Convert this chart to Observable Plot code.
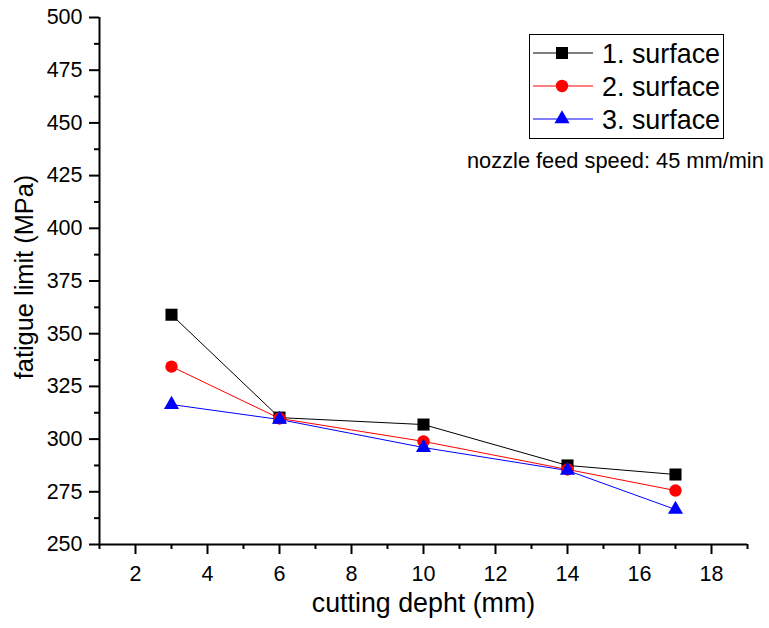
<!DOCTYPE html>
<html>
<head>
<meta charset="utf-8">
<script src="https://cdn.jsdelivr.net/npm/d3@7"></script>
<script src="https://cdn.jsdelivr.net/npm/@observablehq/plot@0.6"></script>
<style>
  body { margin: 0; background: #fff; }
  #chart { position: relative; width: 769px; height: 628px; }
</style>
</head>
<body>
<div id="chart"></div>
<script>
const depth = [3, 6, 10, 14, 17];
const surface1 = [359, 310.2, 306.9, 287.5, 283.2];
const surface2 = [334.4, 309.8, 298.9, 285.6, 275.6];
const surface3 = [316.4, 309.3, 296.0, 285.1, 266.6];
const seriesNames = ["1. surface", "2. surface", "3. surface"];
const seriesColors = ["#000000", "#ff0000", "#0000ff"];
const seriesSymbols = ["square", "circle", "triangle"];
const seriesR = [6.8, 6.2, 5.6];
const xMajor = [2, 4, 6, 8, 10, 12, 14, 16, 18];
const xMinor = [1, 3, 5, 7, 9, 11, 13, 15, 17, 19];
const yMajor = [250, 275, 300, 325, 350, 375, 400, 425, 450, 475, 500];
const yMinor = [262.5, 287.5, 312.5, 337.5, 362.5, 387.5, 412.5, 437.5, 462.5, 487.5];
const xLabel = "cutting depht (mm)";
const yLabel = "fatigue limit (MPa)";
const annotation = "nozzle feed speed: 45 mm/min";
const FONT = "'Liberation Sans', Arial, sans-serif";

const allSeries = [surface1, surface2, surface3];
const data = allSeries.flatMap((vals, i) =>
  vals.map((v, j) => ({x: depth[j], y: v, s: seriesNames[i]})));

const marks = [];
seriesNames.forEach((name, i) => {
  const d = data.filter(p => p.s === name);
  marks.push(Plot.line(d, {x: "x", y: "y", stroke: seriesColors[i], strokeWidth: 1}));
});
seriesNames.forEach((name, i) => {
  const d = data.filter(p => p.s === name);
  marks.push(Plot.dot(d, {x: "x", y: "y", fill: seriesColors[i], stroke: "none", symbol: seriesSymbols[i], r: seriesR[i]}));
});

const plot = Plot.plot({
  width: 769,
  height: 628,
  marginLeft: 99,
  marginRight: 22,
  marginTop: 17,
  marginBottom: 84,
  style: {fontFamily: FONT, background: "#fff", color: "#000"},
  x: {domain: [1, 19]},
  y: {domain: [250, 500]},
  marks: [
    Plot.axisX({ticks: xMinor, tickSize: 5, tickFormat: () => "", strokeWidth: 2, label: null}),
    Plot.axisX({ticks: xMajor, tickSize: 10, tickPadding: 11, fontSize: 21.5, strokeWidth: 2, label: null}),
    Plot.axisY({ticks: yMinor, tickSize: 5, tickFormat: () => "", strokeWidth: 2, label: null}),
    Plot.axisY({ticks: yMajor, tickSize: 10, tickPadding: 7, fontSize: 21.5, strokeWidth: 2, label: null}),
    Plot.ruleX([1], {stroke: "#000", strokeWidth: 2}),
    Plot.ruleY([250], {stroke: "#000", strokeWidth: 2}),
    ...marks
  ]
});

const svg = d3.select(plot);
function txt(sel, size, anchor) {
  return sel.style("font-size", size + "px").style("font-family", FONT)
    .attr("text-anchor", anchor).attr("fill", "#000");
}
txt(svg.append("text"), 26.8, "middle")
  .attr("x", 423.5).attr("y", 612)
  .text(xLabel);
txt(svg.append("text"), 25.4, "middle")
  .attr("transform", "translate(33,277) rotate(-90)")
  .text(yLabel);

// Legend
const lg = svg.append("g");
lg.append("rect").attr("x", 529.5).attr("y", 34.5).attr("width", 194).attr("height", 104)
  .attr("fill", "#fff").attr("stroke", "#000").attr("stroke-width", 1);
const rowY = [53, 86, 119];
seriesNames.forEach((name, i) => {
  const y = rowY[i];
  lg.append("line").attr("x1", 533).attr("x2", 593).attr("y1", y).attr("y2", y)
    .attr("stroke", seriesColors[i]).attr("stroke-width", 1);
  const sym = {square: d3.symbolSquare, circle: d3.symbolCircle, triangle: d3.symbolTriangle}[seriesSymbols[i]];
  lg.append("path").attr("d", d3.symbol(sym, Math.PI * seriesR[i] * seriesR[i])())
    .attr("transform", `translate(562,${y})`).attr("fill", seriesColors[i]);
  txt(lg.append("text"), 26.9, "start")
    .attr("x", 602).attr("y", y + 9.5)
    .text(name);
});
txt(svg.append("text"), 21.8, "start")
  .attr("x", 467).attr("y", 168)
  .text(annotation);

document.getElementById("chart").appendChild(plot);
</script>
</body>
</html>
